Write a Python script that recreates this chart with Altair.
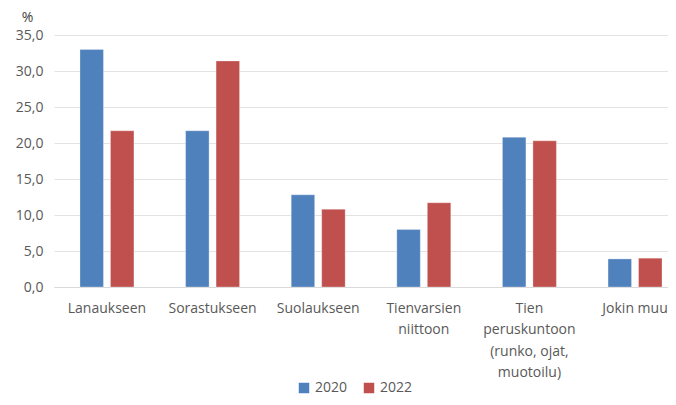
import altair as alt
import pandas as pd

categories = ["Lanaukseen", "Sorastukseen", "Suolaukseen", "Tienvarsien niittoon",
              "Tien peruskuntoon (runko, ojat, muotoilu)", "Jokin muu"]
label_lines = ["Lanaukseen", "Sorastukseen", "Suolaukseen", "Tienvarsien|niittoon",
               "Tien|peruskuntoon|(runko, ojat,|muotoilu)", "Jokin muu"]
years = ["2020", "2022"]
values_2020 = [33.0, 21.7, 12.8, 8.0, 20.8, 3.9]
values_2022 = [21.7, 31.4, 10.8, 11.7, 20.3, 4.0]

rows = []
for c, l, a, b in zip(categories, label_lines, values_2020, values_2022):
    rows.append({"cat": l, "year": "2020", "value": a})
    rows.append({"cat": l, "year": "2022", "value": b})
df = pd.DataFrame(rows)

font = "Open Sans"
grey = "#595959"
fs = 14

chart = alt.Chart(df).mark_bar(stroke="white", strokeWidth=0.5, strokeOpacity=0.6).encode(
    x=alt.X("cat:N", sort=label_lines, title=None,
            scale=alt.Scale(paddingInner=0.489, paddingOuter=0.246, range=[0, 634]),
            axis=alt.Axis(labelAngle=0, labelExpr="split(datum.label, '|')",
                          labelFont=font, labelFontSize=fs, labelColor=grey,
                          labelPadding=14, ticks=False, domainColor="#d9d9d9",
                          labelLineHeight=21.5, labelBaseline="top")),
    xOffset=alt.XOffset("year:N", scale=alt.Scale(paddingInner=0.23)),
    y=alt.Y("value:Q", scale=alt.Scale(domain=[0, 35]),
            axis=alt.Axis(values=[0, 5, 10, 15, 20, 25, 30, 35],
                          labelExpr="replace(format(datum.value, '.1f'), '.', ',')",
                          labelFont=font, labelFontSize=fs, labelColor=grey,
                          labelPadding=11, ticks=False, domain=False,
                          gridColor="#e3e3e3", title="%", titleAngle=0,
                          titleFont=font, titleFontSize=fs, titleFontWeight="normal",
                          titleColor="#404040", titleX=-27, titleY=-18,
                          titleBaseline="middle")),
    color=alt.Color("year:N", scale=alt.Scale(domain=years, range=["#4F81BD", "#C0504D"]),
                    legend=alt.Legend(title=None, orient="none", direction="horizontal",
                                      legendX=243, legendY=346, symbolType="square",
                                      symbolSize=110, symbolStrokeWidth=0,
                                      labelFont=font, labelFontSize=fs, labelColor=grey,
                                      columnPadding=14)),
).properties(
    width=614, height=252,
    autosize=alt.AutoSizeParams(type="none"),
    padding={"left": 46, "top": 27, "right": 0, "bottom": 110},
).configure_view(stroke=None)

chart.save("out.html", embed_options={"renderer": "svg", "actions": False})
